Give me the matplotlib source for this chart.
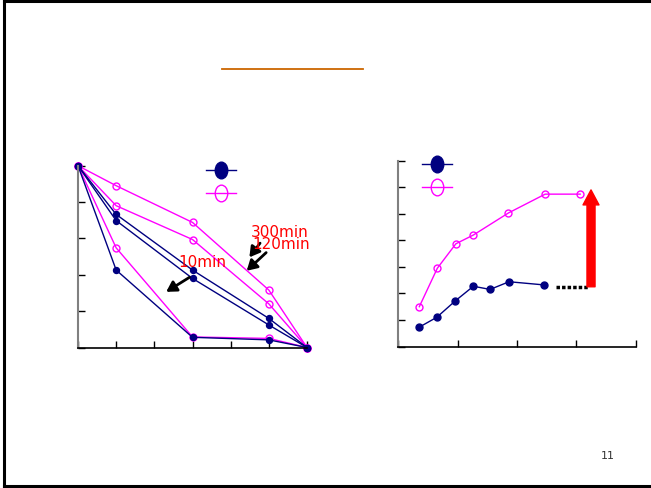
import matplotlib
matplotlib.use('Agg')
import matplotlib.pyplot as plt
from matplotlib.lines import Line2D
from matplotlib.path import Path
from matplotlib.transforms import Affine2D

# left chart: three curves per series, x = sample position
left_x = [0, 1, 3, 5, 6]
blue_curves = [[5, 3.66, 2.13, 0.80, 0],
               [5, 3.49, 1.90, 0.62, 0],
               [5, 2.13, 0.28, 0.21, 0]]
pink_curves = [[5, 4.45, 3.44, 1.58, 0],
               [5, 3.90, 2.97, 1.20, 0],
               [5, 2.74, 0.29, 0.25, 0]]

# right chart
blue_x = [0.354, 0.648, 0.961, 1.265, 1.546, 1.866, 2.457]
blue_y = [0.73, 1.10, 1.72, 2.27, 2.15, 2.44, 2.32]
pink_x = [0.354, 0.658, 0.970, 1.265, 1.855, 2.474, 3.064]
pink_y = [1.50, 2.95, 3.87, 4.20, 5.03, 5.74, 5.74]

NAVY = '#000080'
PINK = '#FF00FF'

fig = plt.figure(figsize=(6.51, 4.88), dpi=100)

# slide frame + title underline + page number
fig.add_artist(Line2D([0.0069, 0.0069], [0.003, 0.998], color='black', lw=2.2, transform=fig.transFigure))
fig.add_artist(Line2D([0.0069, 1.0], [0.998, 0.998], color='black', lw=2.2, transform=fig.transFigure))
fig.add_artist(Line2D([0.0069, 1.0], [0.005, 0.005], color='black', lw=2.2, transform=fig.transFigure))
fig.add_artist(Line2D([222 / 651, 362.7 / 651], [1 - 69.3 / 488] * 2, color='#CC6600', lw=1.3,
                      transform=fig.transFigure))
fig.text(608 / 651, 1 - 459 / 488, '11', fontsize=8, color='#333333', ha='center', va='baseline')

ell = Path.unit_circle().transformed(Affine2D().scale(0.75, 1.0))


def style_axes(ax):
    for s in ['top', 'right']:
        ax.spines[s].set_visible(False)
    ax.spines['left'].set_color('#808080')
    ax.spines['left'].set_linewidth(1.5)
    ax.spines['bottom'].set_color('black')
    ax.spines['bottom'].set_linewidth(1.2)
    ax.tick_params(direction='in', length=5, width=1, labelleft=False, labelbottom=False,
                   colors='black')


def add_legend(ax, anchor):
    h = [Line2D([], [], color=NAVY, lw=1, marker=ell, markersize=12, markerfacecolor=NAVY,
                markeredgecolor=NAVY),
         Line2D([], [], color=PINK, lw=1, marker=ell, markersize=12, markerfacecolor='none',
                markeredgecolor=PINK)]
    ax.legend(h, ['', ''], loc='upper left', bbox_to_anchor=anchor, frameon=False,
              handlelength=2.16, handletextpad=0, borderpad=0, borderaxespad=0,
              labelspacing=0.63)


# ---- left chart
ax1 = fig.add_axes([78 / 651, 1 - 347.5 / 488, 229 / 651, 181.8 / 488])
for yy in pink_curves:
    ax1.plot(left_x, yy, color=PINK, lw=1, marker='o', ms=5, mfc='none', mec=PINK, clip_on=False)
for yy in blue_curves:
    ax1.plot(left_x, yy, color=NAVY, lw=1, marker='o', ms=4.3, mfc=NAVY, mec=NAVY, clip_on=False)
ax1.set_xlim(0, 6)
ax1.set_ylim(0, 5)
ax1.set_xticks(range(7))
ax1.set_yticks(range(6))
style_axes(ax1)
add_legend(ax1, (0.558, 1.008))

ap = dict(arrowstyle='-|>,head_width=0.35,head_length=0.6', color='black', lw=2, shrinkA=0, shrinkB=0)
ax1.annotate('', xy=(4.49, 2.48), xytext=(4.77, 2.87), arrowprops=ap)
ax1.annotate('', xy=(4.42, 2.11), xytext=(4.93, 2.61), arrowprops=ap)
ax1.annotate('', xy=(2.31, 1.53), xytext=(2.92, 1.93), arrowprops=ap)
ax1.text(4.52, 3.03, '300min', color='red', fontsize=11, va='baseline')
ax1.text(4.58, 2.71, '120min', color='red', fontsize=11, va='baseline')
ax1.text(2.63, 2.22, '10min', color='red', fontsize=11, va='baseline')

# ---- right chart
ax2 = fig.add_axes([398.3 / 651, 1 - 346.5 / 488, 237.4 / 651, 185.8 / 488])
ax2.plot(pink_x, pink_y, color=PINK, lw=1, marker='o', ms=5, mfc='none', mec=PINK, clip_on=False)
ax2.plot(blue_x, blue_y, color=NAVY, lw=1, marker='o', ms=5, mfc=NAVY, mec=NAVY, clip_on=False)
ax2.set_xlim(0, 4)
ax2.set_ylim(0, 7)
ax2.set_xticks(range(5))
ax2.set_yticks(range(8))
style_axes(ax2)
add_legend(ax2, (0.0986, 1.013))

ax2.plot([2.652, 3.218], [2.25, 2.25], color='black', lw=2.5, ls=(0, (1, 0.6)))
ax2.annotate('', xy=(3.247, 5.90), xytext=(3.247, 2.25),
             arrowprops=dict(facecolor='red', edgecolor='red', width=5.8, headwidth=11.5,
                             headlength=10.8, shrink=0))

fig.savefig('out.png', dpi=100)
